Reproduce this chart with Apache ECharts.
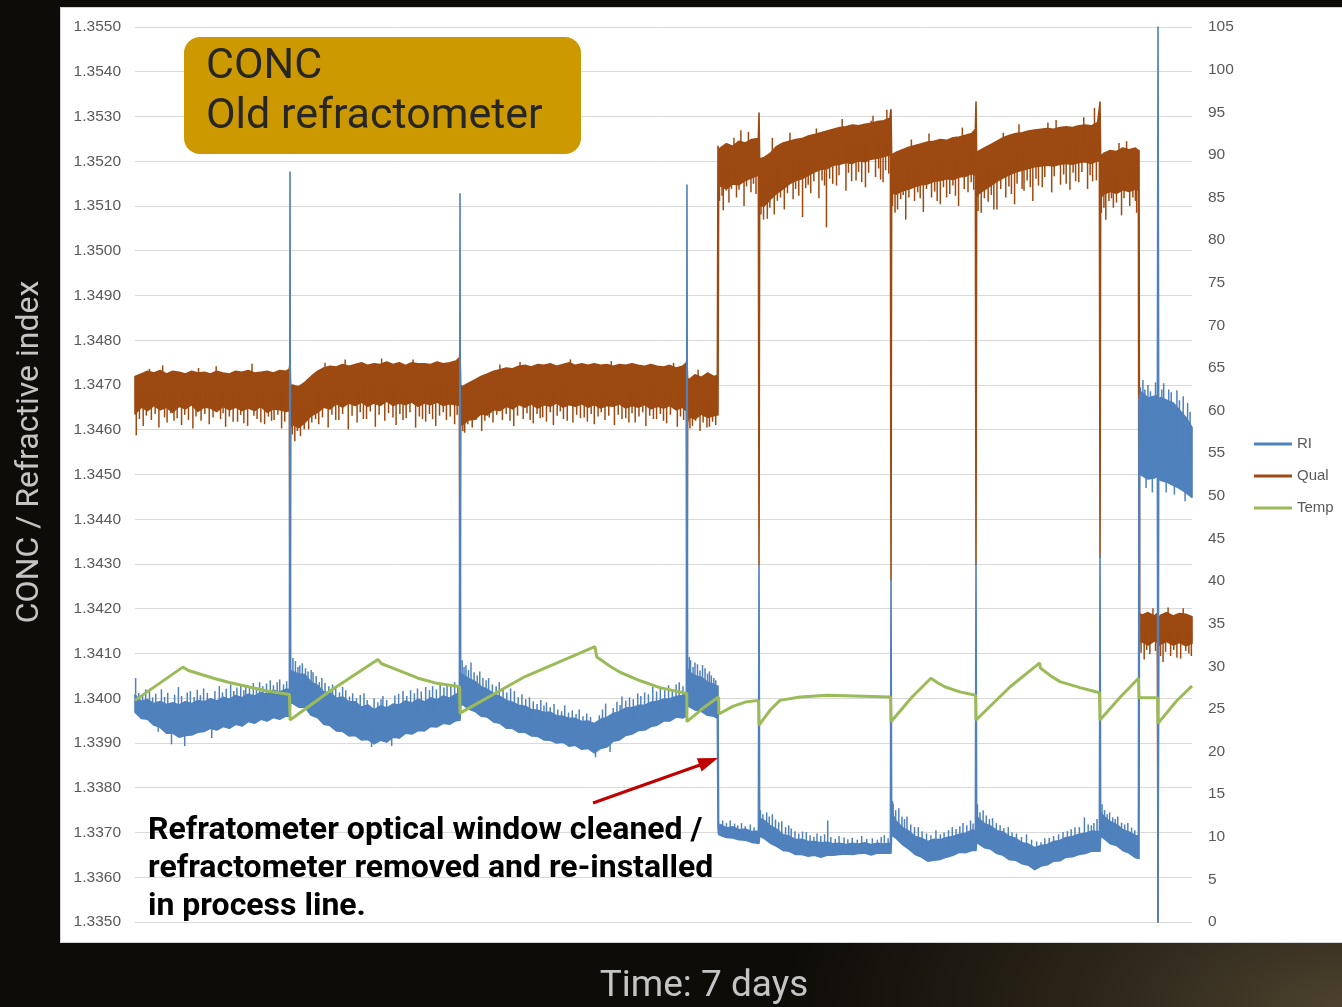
<!DOCTYPE html>
<html>
<head>
<meta charset="utf-8">
<script src="https://cdn.jsdelivr.net/npm/echarts@6/dist/echarts.min.js"></script>
<style>
  html, body { margin: 0; padding: 0; width: 1342px; height: 1007px; overflow: hidden; }
  body {
    background: radial-gradient(560px 280px at 1342px 1007px, #4c422e 0%, #2c2519 45%, #0e0c08 100%), #0e0c08;
    position: relative;
  }
  #panel {
    position: absolute; left: 60px; top: 7px; width: 1300px; height: 936px;
    background: #ffffff; border: 1px solid #d4d4d4; box-sizing: border-box;
  }
  #chart { position: absolute; left: 0; top: 0; width: 1342px; height: 1007px; }
</style>
</head>
<body>
<div id="panel"></div>
<div id="chart"></div>
<script>
// Sample times in hours over the 7-day run (events carry three close samples: before / spike / after)
const hours = [
  0,1,2,3,4,5,6,7,8,9,10,11,12,13,14,15,16,17,18,19,20,21,22,23,24,
  24.54,24.64,24.74,
  25,26,27,28,29,30,31,32,33,34,35,36,37,38,39,40,41,42,43,44,45,46,47,48,49,50,51,
  51.56,51.66,51.76,
  52,53,54,55,56,57,58,59,60,61,62,63,64,65,66,67,68,69,70,71,72,73,74,75,76,77,78,79,80,81,82,83,84,85,86,87,
  87.63,87.73,87.83,
  88,89,90,91,92,
  92.56,92.66,92.76,
  93,94,95,96,97,98,99,
  99.08,99.18,99.28,
  100,101,102,103,104,105,106,107,108,109,110,111,112,113,114,115,116,117,118,119,120,
  120.06,120.16,120.26,
  121,122,123,124,125,126,127,128,129,130,131,132,133,
  133.57,133.67,133.77,
  134,135,136,137,138,139,140,141,142,143,144,145,146,147,148,149,150,151,152,153,
  153.28,153.38,153.48,
  154,155,156,157,158,159,
  159.48,159.58,159.68,
  160,161,162,
  162.5,162.6,162.7,
  163,164,165,166,167,168
];

// RI (refractive index): upper and lower edge of the trace body at each sample
const riHigh = [
  1.34007,1.33993,1.33997,1.33988,1.33993,1.33986,1.33990,1.33985,1.33992,1.33988,1.33995,1.33992,1.33999,1.33994,1.34002,1.33998,1.34006,1.34001,1.34009,1.34005,1.34013,1.34009,1.34018,1.34014,1.34020,
  1.34020,1.35176,1.34063,
  1.34060,1.34054,1.34053,1.34036,1.34029,1.34014,1.34013,1.34000,1.34003,1.33992,1.33992,1.33980,1.33985,1.33974,1.33983,1.33978,1.33987,1.33985,1.33994,1.33989,1.33998,1.33992,1.34001,1.33996,1.34005,1.34000,1.34009,
  1.34011,1.35127,1.34049,
  1.34054,1.34044,1.34038,1.34026,1.34020,1.34010,1.34004,1.33995,1.33991,1.33984,1.33982,1.33975,1.33973,1.33968,1.33969,1.33961,1.33960,1.33955,1.33955,1.33948,1.33949,1.33943,1.33953,1.33957,1.33966,1.33970,1.33978,1.33979,1.33984,1.33984,1.33991,1.33993,1.33998,1.33999,1.34004,1.34006,
  1.34009,1.35147,1.34067,
  1.34060,1.34050,1.34047,1.34036,1.34031,
  1.34027,1.34027,1.33718,
  1.33718,1.33710,1.33713,1.33706,1.33708,1.33702,1.33703,
  1.33703,1.34297,1.33732,
  1.33727,1.33715,1.33707,1.33695,1.33692,1.33684,1.33685,1.33680,1.33680,1.33677,1.33678,1.33675,1.33676,1.33673,1.33676,1.33674,1.33677,1.33673,1.33676,1.33674,1.33676,
  1.33676,1.34264,1.33745,
  1.33725,1.33711,1.33703,1.33691,1.33687,1.33680,1.33685,1.33684,1.33689,1.33691,1.33696,1.33698,1.33705,
  1.33705,1.34302,1.33739,
  1.33732,1.33720,1.33714,1.33704,1.33701,1.33691,1.33687,1.33677,1.33674,1.33666,1.33671,1.33673,1.33680,1.33682,1.33689,1.33691,1.33696,1.33698,1.33703,1.33702,
  1.33702,1.34320,1.33745,
  1.33736,1.33724,1.33718,1.33706,1.33701,1.33693,
  1.33692,1.34666,1.34677,
  1.34684,1.34671,1.34675,
  1.34677,1.35500,1.34662,
  1.34672,1.34666,1.34660,1.34644,1.34628,1.34605
];
const riLow = [
  1.33969,1.33955,1.33953,1.33940,1.33935,1.33922,1.33922,1.33913,1.33917,1.33918,1.33924,1.33926,1.33933,1.33929,1.33937,1.33933,1.33942,1.33938,1.33948,1.33944,1.33953,1.33949,1.33957,1.33953,1.33960,
  1.33960,1.33960,1.33991,
  1.33989,1.33980,1.33980,1.33962,1.33957,1.33942,1.33939,1.33927,1.33926,1.33916,1.33917,1.33907,1.33908,1.33898,1.33906,1.33902,1.33913,1.33911,1.33922,1.33920,1.33928,1.33927,1.33937,1.33936,1.33944,1.33942,1.33950,
  1.33951,1.33951,1.33982,
  1.33987,1.33976,1.33971,1.33960,1.33958,1.33947,1.33944,1.33933,1.33933,1.33924,1.33924,1.33916,1.33915,1.33907,1.33906,1.33900,1.33902,1.33893,1.33895,1.33886,1.33888,1.33878,1.33888,1.33891,1.33904,1.33907,1.33917,1.33920,1.33928,1.33929,1.33937,1.33940,1.33949,1.33949,1.33958,1.33956,
  1.33960,1.33960,1.33987,
  1.33982,1.33974,1.33971,1.33962,1.33960,
  1.33955,1.33709,1.33696,
  1.33694,1.33689,1.33688,1.33684,1.33683,1.33678,1.33676,
  1.33676,1.33676,1.33692,
  1.33687,1.33676,1.33669,1.33660,1.33658,1.33651,1.33651,1.33647,1.33649,1.33645,1.33649,1.33649,1.33651,1.33652,1.33651,1.33653,1.33654,1.33650,1.33654,1.33654,1.33654,
  1.33654,1.33654,1.33694,
  1.33687,1.33673,1.33663,1.33651,1.33645,1.33636,1.33638,1.33640,1.33645,1.33649,1.33656,1.33655,1.33660,
  1.33660,1.33660,1.33683,
  1.33676,1.33666,1.33663,1.33653,1.33649,1.33639,1.33638,1.33630,1.33627,1.33617,1.33625,1.33628,1.33636,1.33637,1.33645,1.33646,1.33651,1.33653,1.33658,1.33658,
  1.33658,1.33658,1.33692,
  1.33687,1.33675,1.33671,1.33660,1.33654,1.33644,
  1.33642,1.33642,1.34510,
  1.34498,1.34490,1.34492,
  1.34496,1.33500,1.34492,
  1.34487,1.34483,1.34476,1.34469,1.34460,1.34449
];
// RI short excursions beyond the trace body: hour and value of each
const riNeedleHours = [
  0.1,0.6,1.2,1.7,2.3,2.8,3.3,3.7,4.2,4.7,5.2,5.8,6.3,6.9,7.4,7.9,8.3,8.8,9.4,9.9,10.4,10.9,11.5,12.2,12.7,13.4,13.9,14.5,15.2,15.7,16.2,16.8,17.3,17.6,18.2,18.8,19.3,19.8,20.3,20.9,21.5,22.0,22.6,23.0,23.6,24.1,
  25.1,25.5,25.9,26.2,26.6,27.1,27.5,28.0,28.3,28.8,29.3,29.7,30.2,30.8,31.4,31.9,32.5,33.0,33.5,34.1,34.6,35.2,35.8,36.4,36.9,37.6,38.0,38.6,39.1,39.4,40.0,40.8,41.3,41.9,42.6,43.2,43.8,44.4,44.9,45.5,46.2,46.8,47.3,47.9,48.5,49.1,49.6,50.2,50.8,51.3,
  52.0,52.3,52.6,53.0,53.4,53.9,54.4,54.8,55.3,55.8,56.2,56.8,57.4,57.9,58.5,59.1,59.7,60.3,60.9,61.5,62.1,62.7,63.3,63.9,64.5,65.0,65.4,66.0,66.6,67.2,67.8,68.3,68.9,69.5,70.1,70.6,71.2,71.8,72.4,73.2,73.8,74.3,74.8,75.5,76.0,76.6,77.1,77.4,78.0,78.6,79.2,79.9,80.4,81.0,81.6,82.3,82.9,83.5,84.2,84.8,85.4,86.0,86.5,87.1,
  88.1,88.3,88.7,89.0,89.4,89.8,90.2,90.6,91.0,91.3,91.6,92.0,92.3,
  93.4,94.0,94.6,95.3,95.8,96.4,97.0,97.8,98.4,
  99.4,99.8,100.4,100.8,101.3,101.8,102.3,102.8,103.4,103.9,104.3,104.9,105.5,106.1,106.7,107.3,107.9,108.4,109.0,109.6,110.1,110.6,111.3,111.9,112.7,113.3,114.0,114.8,115.5,116.3,117.2,118.0,118.6,119.1,119.7,
  120.4,120.5,120.9,121.4,121.9,122.3,122.7,123.3,123.9,124.5,125.1,125.8,126.5,127.3,128.0,128.6,129.3,129.9,130.5,131.1,131.6,132.2,132.8,133.2,
  133.9,134.3,134.8,135.3,135.8,136.3,136.9,137.5,138.1,138.8,139.4,140.1,140.9,141.7,142.5,143.3,144.0,144.6,145.3,146.0,146.8,147.5,148.2,148.8,149.4,150.1,150.9,151.5,152.0,152.4,152.9,
  153.7,154.1,154.5,154.9,155.4,155.8,156.2,156.8,157.3,157.8,158.4,158.9,
  159.8,160.2,160.5,160.7,161.0,161.4,161.7,162.2,163.2,163.5,163.9,164.3,164.7,165.2,165.6,166.0,166.6,166.9,167.3,167.7
];
const riNeedleValues = [
  1.34045,1.34012,1.34005,1.34020,1.34018,1.34002,1.34010,1.33925,1.34020,1.34003,1.34012,1.33897,1.34008,1.34025,1.34005,1.33893,1.34013,1.34016,1.34003,1.34019,1.34007,1.34022,1.34012,1.33911,1.34016,1.34027,1.34013,1.34021,1.34031,1.34016,1.34024,1.34030,1.34018,1.34029,1.34023,1.34034,1.34020,1.34036,1.34027,1.34033,1.34040,1.34029,1.34036,1.34042,1.34031,1.34038,
  1.34090,1.34083,1.34070,1.34074,1.34078,1.34067,1.34060,1.34063,1.34058,1.34050,1.34036,1.34045,1.34034,1.34027,1.34031,1.34022,1.34013,1.34025,1.34018,1.34004,1.34011,1.34000,1.34007,1.34011,1.33996,1.33891,1.34000,1.33991,1.33998,1.34005,1.33996,1.33893,1.34006,1.34010,1.34016,1.34005,1.34018,1.34011,1.34022,1.34015,1.34025,1.34018,1.34027,1.34020,1.34031,1.34024,1.34031,1.34027,1.34036,1.34029,
  1.34085,1.34070,1.34074,1.34063,1.34080,1.34058,1.34051,1.34060,1.34045,1.34040,1.34045,1.34031,1.34027,1.34036,1.34020,1.34013,1.34022,1.34016,1.34002,1.34009,1.33998,1.34002,1.33993,1.33987,1.33996,1.33984,1.33991,1.33980,1.33987,1.33975,1.33971,1.33984,1.33968,1.33973,1.33965,1.33975,1.33960,1.33966,1.33958,1.33868,1.33962,1.33975,1.33988,1.33880,1.33978,1.33992,1.33985,1.34004,1.33995,1.34002,1.33998,1.34011,1.34005,1.34013,1.34009,1.34025,1.34015,1.34022,1.34018,1.34029,1.34020,1.34031,1.34036,1.34027,
  1.34092,1.34085,1.34070,1.34080,1.34076,1.34062,1.34074,1.34067,1.34055,1.34060,1.34051,1.34045,1.34040,
  1.33727,1.33721,1.33727,1.33720,1.33716,1.33721,1.33714,1.33718,1.33712,
  1.33750,1.33741,1.33745,1.33736,1.33741,1.33729,1.33723,1.33725,1.33712,1.33716,1.33709,1.33703,1.33698,1.33702,1.33701,1.33694,1.33690,1.33698,1.33692,1.33696,1.33727,1.33690,1.33686,1.33692,1.33689,1.33685,1.33688,1.33684,1.33692,1.33686,1.33687,1.33684,1.33690,1.33694,1.33687,
  1.33770,1.33765,1.33750,1.33754,1.33736,1.33730,1.33736,1.33718,1.33712,1.33712,1.33703,1.33698,1.33694,1.33705,1.33696,1.33700,1.33705,1.33712,1.33708,1.33714,1.33721,1.33716,1.33727,1.33720,
  1.33763,1.33745,1.33750,1.33738,1.33730,1.33732,1.33721,1.33716,1.33710,1.33712,1.33700,1.33698,1.33690,1.33696,1.33684,1.33680,1.33678,1.33687,1.33688,1.33692,1.33696,1.33701,1.33703,1.33707,1.33712,1.33712,1.33734,1.33718,1.33716,1.33721,1.33730,
  1.33763,1.33750,1.33741,1.33745,1.33734,1.33730,1.33736,1.33722,1.33718,1.33721,1.33711,1.33705,
  1.34695,1.34711,1.34690,1.34470,1.34700,1.34686,1.34460,1.34706,1.34690,1.34704,1.34460,1.34690,1.34684,1.34455,1.34688,1.34666,1.34675,1.34440,1.34660,1.34640
];

// Qual: upper and lower edge of the trace body
const qualHigh = [
  64.0,64.3,64.6,64.4,64.7,64.3,64.6,64.5,64.3,64.6,64.4,64.5,64.3,64.6,64.4,64.3,64.6,64.5,64.7,64.4,64.5,64.6,64.4,64.7,64.6,
  64.9,65.7,62.8,
  63.0,62.8,63.3,64.0,64.6,65.0,65.2,65.1,65.4,65.2,65.4,65.6,65.3,65.5,65.4,65.7,65.4,65.6,65.3,65.6,65.5,65.5,65.4,65.7,65.5,65.6,65.8,
  66.2,66.9,63.0,
  62.8,63.2,63.6,64.0,64.3,64.6,64.8,65.0,64.9,65.2,65.3,65.1,65.4,65.3,65.5,65.2,65.4,65.6,65.3,65.5,65.3,65.5,65.3,65.4,65.2,65.4,65.3,65.5,65.3,65.2,65.4,65.2,65.1,65.3,65.0,65.2,
  65.6,65.9,63.8,
  63.6,64.2,63.9,64.4,64.0,
  64.1,91.0,90.5,
  90.8,91.3,91.0,91.6,91.4,91.8,91.9,
  92.0,94.9,89.5,
  89.7,90.2,91.0,91.4,91.6,91.8,91.9,92.2,92.4,92.6,92.8,93.0,93.2,93.3,93.5,93.4,93.6,93.7,93.9,94.0,94.3,
  94.8,95.3,90.0,
  90.3,90.6,90.9,91.1,91.3,91.5,91.6,91.8,91.7,92.0,92.1,92.3,92.5,
  93.0,96.2,90.2,
  90.4,90.8,91.2,91.6,92.0,92.3,92.5,92.6,92.8,92.9,93.0,93.1,93.0,93.2,93.3,93.2,93.4,93.5,93.4,93.8,
  95.5,96.2,89.8,
  90.2,90.5,90.4,90.8,90.6,90.8,
  90.5,90.5,36.2,
  36.0,36.3,35.9,
  36.2,36.0,35.6,
  36.0,36.3,35.9,36.2,36.1,35.8
];
const qualLow = [
  59.6,60.4,60.0,60.6,60.1,60.4,59.8,60.5,60.2,60.7,59.9,60.4,60.3,59.9,60.5,60.1,60.4,60.0,60.3,60.0,60.5,59.8,60.2,60.1,59.9,
  60.0,33.1,58.0,
  58.4,58.0,58.6,59.4,59.8,60.4,60.2,60.8,60.4,60.9,60.6,61.0,60.5,60.9,60.6,61.1,60.6,60.9,60.7,61.0,60.5,60.9,60.7,61.0,60.6,60.8,60.7,
  60.6,33.1,58.5,
  58.3,58.9,59.0,59.6,59.5,60.1,60.0,60.5,60.2,60.7,60.4,60.8,60.3,60.7,60.5,60.9,60.4,60.7,60.5,60.8,60.4,60.7,60.3,60.6,60.5,60.8,60.3,60.6,60.4,60.7,60.2,60.5,60.3,60.6,60.1,60.4,
  60.0,33.1,58.5,
  59.3,59.0,59.6,59.2,59.4,
  59.5,59.5,86.0,
  86.4,86.0,86.6,86.5,87.0,87.3,87.6,
  87.6,41.9,84.0,
  84.0,84.8,85.5,86.0,86.6,87.0,87.2,87.6,88.0,88.3,88.4,88.8,88.9,89.1,89.0,89.3,89.2,89.5,89.6,89.8,90.0,
  90.0,40.1,85.5,
  85.4,85.8,86.0,86.3,86.5,86.6,86.9,87.0,87.2,87.1,87.4,87.5,87.8,
  87.6,41.9,85.0,
  85.4,85.9,86.4,86.9,87.3,87.7,88.0,88.2,88.4,88.6,88.7,88.8,88.7,88.9,89.0,88.9,89.1,89.2,89.0,89.3,
  89.2,42.8,85.0,
  85.4,85.7,85.5,85.9,85.7,86.0,
  85.8,32.0,32.8,
  32.9,32.5,33.0,
  32.8,0.0,32.4,
  32.6,32.9,32.5,32.8,32.4,32.7
];
// Qual short excursions beyond the trace body: hour and value of each
const qualNeedleHours = [
  0.2,0.7,1.3,1.8,2.3,2.6,3.2,3.8,4.4,4.7,5.1,5.7,6.2,6.7,7.4,7.9,8.5,9.2,9.7,10.1,10.5,11.1,11.8,12.4,12.9,13.6,14.0,14.4,15.0,15.6,16.3,16.8,17.3,17.9,18.6,18.9,19.4,20.0,20.6,21.2,21.7,22.1,22.7,23.3,23.8,
  25.0,25.4,25.8,26.3,26.9,27.6,28.1,28.7,29.2,29.8,30.2,30.7,31.3,31.9,32.4,33.0,33.4,33.9,34.5,35.3,35.8,36.3,36.8,37.4,38.2,38.8,39.2,39.7,40.3,41.0,41.5,42.1,42.6,43.1,43.7,44.2,44.6,45.2,45.7,46.2,46.8,47.3,47.8,48.4,49.0,49.5,50.1,50.8,51.2,
  52.1,52.4,52.9,53.6,54.2,55.1,55.6,56.3,56.9,57.5,58.0,58.4,59.0,59.6,60.2,60.8,61.2,61.7,62.3,62.8,63.3,63.9,64.4,64.8,65.4,66.0,66.5,67.1,67.6,68.1,68.7,69.2,69.6,70.2,70.8,71.4,71.9,72.5,73.0,73.6,74.1,74.7,75.3,75.7,76.2,76.8,77.4,78.0,78.5,79.0,79.5,80.1,80.7,81.2,81.8,82.4,82.9,83.5,84.0,84.5,85.1,85.6,86.2,86.7,87.2,
  88.2,88.6,89.1,89.5,89.8,90.3,90.9,91.3,91.8,92.3,
  92.9,93.3,93.5,94.0,94.4,94.8,95.2,95.6,96.0,96.3,96.8,97.2,97.5,97.9,98.3,98.7,
  99.5,99.9,100.5,100.9,101.3,101.6,102.1,102.6,103.2,103.7,104.1,104.6,105.0,105.5,106.1,106.6,107.0,107.4,107.9,108.3,108.7,109.2,109.6,109.9,110.4,110.9,111.5,111.9,112.4,113.0,113.4,113.9,114.6,115.0,115.5,116.1,116.6,117.0,117.3,117.7,118.2,118.5,118.9,119.3,119.5,119.8,
  120.4,120.8,121.2,121.7,122.1,122.5,123.0,123.4,123.9,124.4,124.8,125.3,125.8,126.2,126.6,127.1,127.5,128.0,128.5,129.0,129.5,130.0,130.4,130.9,131.5,131.8,132.4,132.9,133.3,
  134.0,134.5,135.0,135.6,136.1,136.5,137.0,137.6,138.0,138.4,138.9,139.3,139.8,140.2,140.5,141.0,141.3,141.8,142.3,142.7,143.2,143.6,144.2,144.6,145.1,145.7,146.1,146.4,147.1,147.6,148.0,148.6,149.1,149.5,150.0,150.5,150.8,151.4,151.8,152.2,152.5,152.8,
  153.6,154.0,154.3,154.8,155.2,155.5,156.0,156.4,156.8,157.2,157.6,158.1,158.6,159.0,159.2,
  159.9,160.4,160.8,161.3,161.8,162.2,163.0,163.4,163.8,164.2,164.6,165.1,165.6,166.2,166.6,167.0,167.5,167.9
];
const qualNeedleValues = [
  57.1,59.0,58.2,59.4,64.9,58.9,59.6,58.0,65.3,59.2,58.6,59.7,58.8,59.1,58.3,59.5,58.9,57.9,59.3,65.0,58.8,59.6,58.4,59.2,65.2,59.0,59.7,58.1,59.3,58.7,58.7,59.5,58.5,58.2,65.5,59.4,59.0,58.6,58.4,59.3,58.8,58.9,59.5,57.9,58.7,
  57.2,56.4,57.6,57.0,57.8,57.8,58.6,59.0,58.4,59.2,65.6,58.0,59.5,58.9,58.9,59.6,66.0,57.8,59.4,58.6,59.8,59.0,59.0,59.9,58.1,59.5,66.1,58.8,59.7,59.2,58.3,59.6,58.9,59.1,59.8,66.0,58.0,59.3,59.0,58.7,59.6,59.0,58.2,59.4,59.8,58.9,59.3,58.4,59.5,
  57.6,57.4,58.4,58.0,58.9,57.6,58.8,59.2,58.6,59.5,65.4,58.9,59.6,58.8,58.2,59.4,65.7,59.0,59.7,58.9,58.5,59.6,59.1,59.2,58.7,59.8,58.3,59.4,59.9,59.0,58.8,66.0,58.6,59.5,59.1,59.2,58.7,59.6,58.4,59.3,59.8,58.9,59.4,65.8,58.3,59.5,59.0,59.1,58.6,59.7,58.6,59.3,59.8,58.2,59.4,59.0,59.0,59.6,58.8,58.5,59.5,65.6,58.1,59.3,58.9,
  57.9,58.2,58.8,64.8,57.6,58.6,58.0,58.1,58.7,58.3,
  84.6,85.2,83.5,85.8,84.4,86.0,92.0,85.0,85.9,92.9,84.0,86.3,92.7,85.6,86.6,85.4,
  83.0,82.4,82.5,83.8,92.0,83.0,84.6,85.0,83.6,85.5,92.6,84.8,86.0,85.2,82.7,86.1,86.5,85.5,86.9,93.1,84.9,87.0,86.4,81.5,87.2,86.6,86.4,87.6,94.2,85.8,87.9,86.9,87.0,88.0,86.8,86.2,87.9,94.0,94.6,87.4,88.4,87.1,86.8,88.2,95.3,87.8,
  84.0,83.2,83.6,84.8,85.3,82.4,85.0,91.8,84.6,85.6,84.9,83.3,86.0,92.5,85.0,85.7,84.6,84.2,86.2,85.0,85.4,86.4,85.2,84.0,93.2,86.0,85.6,86.8,85.9,
  83.4,83.2,84.9,84.5,85.3,83.6,83.6,86.0,92.6,85.0,86.3,85.4,84.2,86.6,93.6,86.0,85.8,87.0,86.2,84.6,87.2,86.4,86.2,87.4,93.8,85.6,87.5,94.1,86.5,87.7,86.6,85.9,87.9,86.9,86.8,88.0,94.4,86.0,87.6,86.9,95.5,87.0,
  83.2,83.8,82.4,84.6,84.9,83.8,84.4,91.4,82.9,84.9,91.6,84.0,85.0,84.6,83.2,
  31.6,30.8,31.9,31.4,36.8,31.8,31.2,30.5,31.7,36.9,31.2,31.9,31.0,30.9,36.8,31.8,31.5,31.2
];

// Temp: smooth trace, knots in hours
const tempHours = [0,7.6,8.5,10.3,12.5,15,18,21,24.55,24.64,31,38.6,39.2,42,45,48,51.6,51.66,62,73.1,73.4,75.5,77.1,80.3,83.4,87.7,87.73,90.3,92.75,92.8,95,97,99.1,99.18,101,102.5,105.7,110,120.1,120.16,123.5,126.5,127.5,128.7,131.1,133.6,133.67,139.1,143.8,143.9,145.5,147,150.2,153.3,153.38,156.5,159.5,159.58,162.55,162.6,165.5,168];
const temp = [26.0,29.9,29.5,29.1,28.6,28.1,27.6,27.1,26.7,23.7,27.1,30.8,30.3,29.5,28.6,28.0,27.6,24.5,28.8,32.3,31.1,30.0,29.3,28.3,27.5,26.8,23.5,25.1,26.4,24.4,25.3,25.8,26.0,23.1,24.9,26.0,26.4,26.6,26.4,23.5,26.4,28.6,28.1,27.6,27.0,26.6,23.7,27.6,30.4,29.8,28.9,28.2,27.5,26.9,23.7,26.3,28.6,26.3,26.3,23.3,25.9,27.7];

// Axis ranges and ticks
const riAxis = { min: 1.335, max: 1.355, step: 0.001 };
const rightAxis = { min: 0, max: 105, step: 5 };
const legendNames = ['RI', 'Qual', 'Temp'];

[riHigh, riLow, qualHigh, qualLow].forEach(function (a) {
  if (a.length !== hours.length) throw new Error('length mismatch ' + a.length + ' vs ' + hours.length);
});
if (temp.length !== tempHours.length) throw new Error('temp length mismatch');
if (riNeedleHours.length !== riNeedleValues.length) throw new Error('ri needle mismatch ' + riNeedleHours.length + ' vs ' + riNeedleValues.length);
if (qualNeedleHours.length !== qualNeedleValues.length) throw new Error('qual needle mismatch ' + qualNeedleHours.length + ' vs ' + qualNeedleValues.length);

const COLORS = { ri: '#4f81bd', qual: '#9c4a12', temp: '#9bbb59' };

// Trace body: filled band between the upper and lower edge
function bandRows(lo, hi) {
  return hours.map(function (h, i) { return [h, lo[i], hi[i]]; });
}
function bandRenderer(lo, hi, color) {
  return function (params, api) {
    if (params.dataIndex !== 0) return null;
    const top = [], bottom = [];
    for (let i = 0; i < hours.length; i++) {
      top.push(api.coord([hours[i], hi[i]]));
      bottom.push(api.coord([hours[i], lo[i]]));
    }
    return {
      type: 'polygon',
      shape: { points: top.concat(bottom.reverse()) },
      style: { fill: color, stroke: color, lineWidth: 1.6, lineJoin: 'round' }
    };
  };
}
// Short excursions: a thin stroke from the middle of the trace body out to the excursion value
function nearestSample(h) {
  let best = 0;
  for (let i = 1; i < hours.length; i++) {
    if (Math.abs(hours[i] - h) < Math.abs(hours[best] - h)) best = i;
  }
  return best;
}
function needleRenderer(lo, hi, color) {
  return function (params, api) {
    const h = api.value(0), v = api.value(1);
    const k = nearestSample(h);
    const p0 = api.coord([h, (lo[k] + hi[k]) / 2]);
    const p1 = api.coord([h, v]);
    return {
      type: 'line',
      shape: { x1: p0[0], y1: p0[1], x2: p1[0], y2: p1[1] },
      style: { stroke: color, lineWidth: 1.5 }
    };
  };
}

const labelStyle = { color: '#595959', fontSize: 15.5, fontFamily: 'Liberation Sans' };

const chart = echarts.init(document.getElementById('chart'), null, { renderer: 'canvas' });
chart.setOption({
  backgroundColor: 'transparent',
  animation: false,
  grid: { left: 135, right: 150, top: 27, bottom: 85 },
  xAxis: { type: 'value', min: 0, max: 168, show: false },
  yAxis: [
    {
      type: 'value', min: riAxis.min, max: riAxis.max, interval: riAxis.step,
      axisLine: { show: false }, axisTick: { show: false },
      axisLabel: Object.assign({ margin: 14, formatter: function (v) { return v.toFixed(4); } }, labelStyle),
      splitLine: { lineStyle: { color: '#d9d9d9', width: 1 } }
    },
    {
      type: 'value', position: 'right', min: rightAxis.min, max: rightAxis.max, interval: rightAxis.step,
      axisLine: { show: false }, axisTick: { show: false },
      axisLabel: Object.assign({ margin: 16 }, labelStyle),
      splitLine: { show: false }
    }
  ],
  legend: {
    data: legendNames, orient: 'vertical', left: 1249, top: 430,
    icon: 'rect', itemWidth: 38, itemHeight: 3, itemGap: 14,
    textStyle: { color: '#595959', fontSize: 15, fontFamily: 'Liberation Sans', lineHeight: 18 }
  },
  series: [
    {
      name: 'Qual', type: 'custom', yAxisIndex: 1, silent: true,
      itemStyle: { color: COLORS.qual },
      data: bandRows(qualLow, qualHigh), encode: { x: 0, y: [1, 2] },
      renderItem: bandRenderer(qualLow, qualHigh, COLORS.qual)
    },
    {
      name: 'Qual excursions', type: 'custom', yAxisIndex: 1, silent: true,
      itemStyle: { color: COLORS.qual },
      data: qualNeedleHours.map(function (h, i) { return [h, qualNeedleValues[i]]; }),
      encode: { x: 0, y: 1 },
      renderItem: needleRenderer(qualLow, qualHigh, COLORS.qual)
    },
    {
      name: 'RI', type: 'custom', yAxisIndex: 0, silent: true,
      itemStyle: { color: COLORS.ri },
      data: bandRows(riLow, riHigh), encode: { x: 0, y: [1, 2] },
      renderItem: bandRenderer(riLow, riHigh, COLORS.ri)
    },
    {
      name: 'RI excursions', type: 'custom', yAxisIndex: 0, silent: true,
      itemStyle: { color: COLORS.ri },
      data: riNeedleHours.map(function (h, i) { return [h, riNeedleValues[i]]; }),
      encode: { x: 0, y: 1 },
      renderItem: needleRenderer(riLow, riHigh, COLORS.ri)
    },
    {
      name: 'Temp', type: 'line', yAxisIndex: 1, silent: true,
      color: COLORS.temp, showSymbol: false, symbol: 'none',
      lineStyle: { width: 3, color: COLORS.temp },
      data: tempHours.map(function (h, i) { return [h, temp[i]]; })
    }
  ],
  graphic: [
    {
      type: 'rect', z: 100, shape: { x: 184, y: 37, width: 397, height: 117, r: 16 },
      style: { fill: '#cc9900' }
    },
    {
      type: 'text', z: 101, x: 206, y: 67,
      style: { text: 'CONC', fill: '#262626', fontSize: 43, fontFamily: 'Roboto', align: 'left', verticalAlign: 'middle' }
    },
    {
      type: 'text', z: 101, x: 206, y: 117,
      style: { text: 'Old refractometer', fill: '#262626', fontSize: 43, fontFamily: 'Roboto', align: 'left', verticalAlign: 'middle' }
    },
    {
      type: 'text', z: 101, x: 148, y: 831,
      style: { text: 'Refratometer optical window cleaned /', fill: '#000000', fontSize: 32, fontWeight: 'bold', fontFamily: 'Roboto', align: 'left', verticalAlign: 'middle' }
    },
    {
      type: 'text', z: 101, x: 148, y: 869,
      style: { text: 'refractometer removed and re-installed', fill: '#000000', fontSize: 32, fontWeight: 'bold', fontFamily: 'Roboto', align: 'left', verticalAlign: 'middle' }
    },
    {
      type: 'text', z: 101, x: 148, y: 907,
      style: { text: 'in process line.', fill: '#000000', fontSize: 32, fontWeight: 'bold', fontFamily: 'Roboto', align: 'left', verticalAlign: 'middle' }
    },
    {
      type: 'line', z: 101, shape: { x1: 593, y1: 803, x2: 700, y2: 765 },
      style: { stroke: '#c00000', lineWidth: 3 }
    },
    {
      type: 'polygon', z: 101, shape: { points: [[718, 758], [701.6, 771.4], [696.8, 758.2]] },
      style: { fill: '#c00000' }
    },
    {
      type: 'text', z: 101, x: 30, y: 452, rotation: Math.PI / 2,
      style: { text: 'CONC / Refractive index', fill: '#c4c4c4', fontSize: 32, fontFamily: 'Roboto', align: 'center', verticalAlign: 'middle' }
    },
    {
      type: 'text', z: 101, x: 704, y: 987,
      style: { text: 'Time: 7 days', fill: '#c4c4c4', fontSize: 37, fontFamily: 'Roboto', align: 'center', verticalAlign: 'middle' }
    }
  ]
});
</script>
</body>
</html>
